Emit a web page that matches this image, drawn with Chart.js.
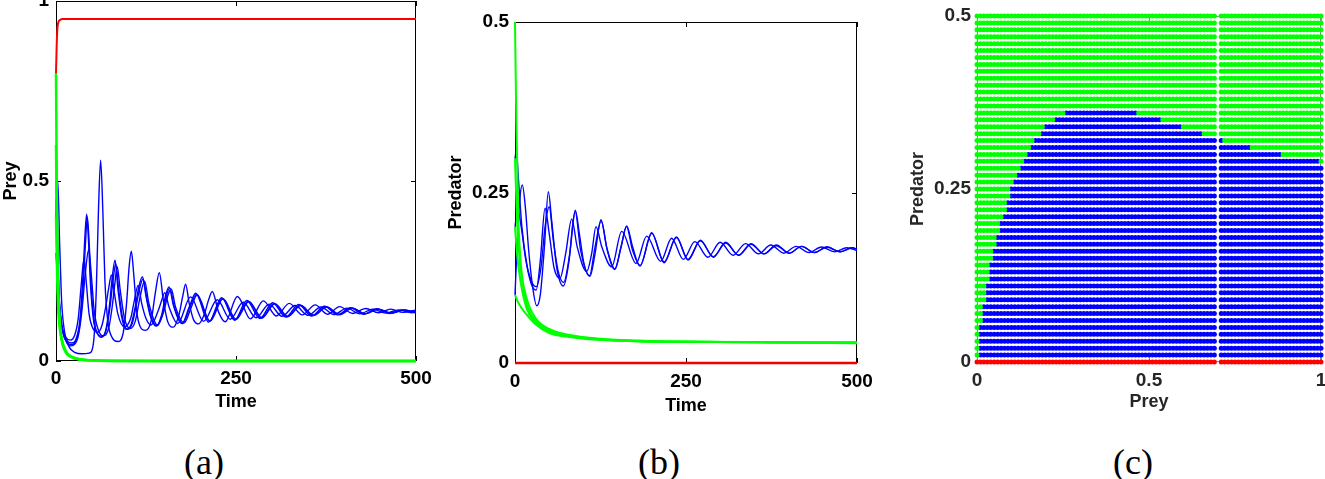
<!DOCTYPE html>
<html><head><meta charset="utf-8">
<script src="https://cdn.jsdelivr.net/npm/chart.js@4.4.1/dist/chart.umd.min.js"></script>
<style>
html,body{margin:0;padding:0;background:#fff;width:1325px;height:479px;overflow:hidden;position:relative;}
canvas{position:absolute;top:0;}
.cap{position:absolute;font-family:"Liberation Serif","DejaVu Serif",serif;font-size:36px;line-height:36px;transform:translateX(-50%);color:#000;white-space:nowrap;}
</style></head><body>
<canvas id="ca" width="440" height="420" style="left:0px"></canvas>
<canvas id="cb" width="440" height="420" style="left:440px"></canvas>
<canvas id="cc" width="445" height="420" style="left:880px"></canvas>
<div class="cap" style="left:204px;top:444px">(a)</div>
<div class="cap" style="left:659px;top:444px">(b)</div>
<div class="cap" style="left:1133px;top:444px">(c)</div>
<script>
// ---------- Panel (a): Prey vs Time ----------
const aXTickValues = [0, 250, 500];
const aXTickLabels = ['0', '250', '500'];
const aYTickValues = [0, 0.5, 1];
const aYTickLabels = ['0', '0.5', '1'];
const aRed = [[0,0.8],[1,0.88],[2,0.925],[3.5,0.942],[6,0.948],[9,0.95],[500,0.95]];
const aGreen1 = [[0,0.8],[1,0.5],[2,0.3],[4,0.15],[7,0.07],[12,0.03],[20,0.012],[35,0.004],[60,0.001],[120,0],[500,0]];
const aGreen2 = [[0,0.6],[1,0.4],[2.5,0.22],[5,0.11],[8,0.06],[14,0.025],[24,0.01],[40,0.003],[80,0.0005],[150,0],[500,0]];
const aGreen3 = [[0,0.4],[1.5,0.25],[3,0.15],[6,0.08],[10,0.045],[16,0.02],[28,0.007],[50,0.002],[100,0],[500,0]];
const aBlue1 = [[0,0.4],[2.5,0.5],[5,0.33],[8,0.16],[12,0.08],[18,0.04],[26,0.024],[36,0.02],[46,0.022],[50,0.03],[53,0.07],[56,0.2],[59,0.42],[62,0.558],[65,0.42],[68,0.22],[72,0.11],[78,0.065],[86,0.054],[93,0.075],[98,0.16],[101.5,0.26],[104.6,0.305],[108,0.24],[112,0.14],[117,0.095],[124,0.085],[132,0.11],[138,0.19],[143.5,0.245],[149,0.17],[155,0.11],[163,0.094],[171,0.13],[176,0.18],[180,0.213],[185,0.16],[191,0.115],[198,0.103],[206,0.13],[212,0.17],[217,0.193],[226,0.135],[235,0.109],[252,0.179],[270,0.117],[288,0.167],[306,0.125],[324,0.16],[342,0.128],[360,0.156],[377,0.13],[394,0.151],[412,0.132],[430,0.146],[448,0.134],[465,0.144],[482,0.135],[500,0.142]];
const aBlue2 = [[0,0.5],[2,0.3],[5,0.15],[10,0.08],[16,0.055],[22,0.05],[28,0.062],[33,0.11],[37,0.22],[40,0.34],[42.6,0.408],[45,0.34],[48,0.21],[52,0.115],[57,0.078],[63,0.066],[69,0.085],[74,0.15],[78,0.23],[82,0.28],[86,0.2],[91,0.125],[97,0.088],[104,0.1],[110,0.15],[115,0.205],[120,0.234],[125,0.18],[131,0.125],[139,0.097],[147,0.13],[152,0.18],[157,0.206],[163,0.155],[175,0.104],[185,0.15],[194,0.188],[212,0.108],[230,0.176],[248,0.113],[265,0.168],[283,0.118],[301,0.162],[319,0.122],[337,0.157],[355,0.125],[373,0.152],[391,0.128],[409,0.148],[427,0.13],[445,0.145],[463,0.132],[481,0.142],[500,0.133]];
const aBlue3 = [[0,0.45],[2,0.28],[5,0.14],[10,0.075],[16,0.05],[22,0.045],[28,0.058],[33,0.1],[37.5,0.2],[41,0.33],[43.5,0.4],[46,0.33],[49,0.2],[53,0.11],[58,0.075],[64,0.068],[70,0.088],[75,0.15],[79,0.22],[83,0.27],[87,0.2],[92,0.125],[99,0.088],[106,0.105],[112,0.16],[116,0.2],[121,0.228],[126,0.175],[132,0.123],[140,0.098],[148,0.13],[153,0.178],[158,0.203],[164,0.152],[176,0.104],[186,0.15],[195,0.185],[213,0.11],[231,0.174],[249,0.115],[267,0.166],[285,0.119],[303,0.16],[321,0.123],[339,0.155],[357,0.126],[375,0.151],[393,0.129],[411,0.147],[429,0.131],[447,0.144],[465,0.133],[483,0.141],[500,0.135]];
const aBlue4 = [[0,0.6],[1.5,0.4],[4,0.2],[8,0.1],[14,0.055],[20,0.042],[25,0.045],[31,0.07],[36,0.14],[41,0.25],[45.5,0.31],[49,0.24],[53,0.14],[59,0.085],[66,0.07],[73,0.09],[78,0.15],[82,0.22],[85,0.262],[89,0.2],[95,0.12],[103,0.09],[110,0.11],[116,0.17],[123,0.222],[129,0.16],[141,0.1],[150,0.14],[155,0.18],[160,0.2],[166,0.15],[178,0.106],[188,0.15],[196,0.184],[214,0.111],[232,0.173],[250,0.116],[268,0.165],[286,0.12],[304,0.159],[322,0.124],[340,0.154],[358,0.127],[376,0.15],[394,0.129],[412,0.147],[430,0.131],[448,0.144],[466,0.133],[484,0.142],[500,0.135]];
const aBlue5 = [[0,0.3],[3,0.2],[8,0.1],[14,0.065],[20,0.058],[26,0.072],[31,0.12],[35,0.21],[39,0.285],[42,0.22],[46,0.13],[51,0.092],[58,0.08],[64,0.1],[69,0.15],[73,0.2],[77,0.239],[81,0.19],[86,0.13],[95,0.095],[104,0.12],[109,0.17],[114,0.21],[119,0.16],[125,0.118],[132,0.1],[142,0.14],[147,0.17],[151,0.19],[157,0.15],[169,0.104],[187,0.178],[205,0.11],[224,0.17],[242,0.116],[260,0.163],[278,0.12],[296,0.158],[314,0.124],[332,0.154],[350,0.127],[368,0.15],[386,0.129],[404,0.147],[422,0.131],[440,0.144],[458,0.133],[476,0.142],[494,0.134],[500,0.136]];

// ---------- Panel (b): Predator vs Time ----------
const bXTickValues = [0, 250, 500];
const bXTickLabels = ['0', '250', '500'];
const bYTickValues = [0, 0.25, 0.5];
const bYTickLabels = ['0', '0.25', '0.5'];
const bRed = [[0,0],[500,0]];
const bGreen1 = [[0,0.5],[2,0.35],[5,0.21],[9,0.14],[17,0.095],[30,0.066],[50,0.05],[80,0.041],[120,0.036],[180,0.033],[260,0.031],[380,0.0302],[500,0.03]];
const bGreen2 = [[0,0.3],[3,0.21],[7,0.15],[17,0.087],[30,0.063],[50,0.048],[80,0.04],[120,0.035],[180,0.032],[260,0.031],[380,0.0302],[500,0.03]];
const bGreen3 = [[0,0.2],[3,0.16],[8,0.12],[17,0.08],[30,0.06],[50,0.046],[80,0.039],[120,0.035],[180,0.032],[260,0.031],[500,0.03]];
const bGreen4 = [[0,0.1],[4,0.09],[10,0.08],[17,0.071],[30,0.057],[50,0.044],[80,0.038],[120,0.034],[180,0.032],[260,0.031],[500,0.029]];
const bBlue1 = [[0,0.1],[3,0.17],[7,0.24],[10.7,0.261],[15,0.23],[20,0.165],[26,0.11],[31.7,0.084],[37,0.1],[43,0.17],[48.7,0.251],[54,0.205],[61,0.14],[70.7,0.113],[79,0.15],[84,0.2],[88.2,0.224],[94,0.19],[101,0.145],[109.6,0.127],[117,0.16],[125.7,0.21],[134,0.17],[146,0.137],[155,0.17],[163.3,0.201],[172,0.17],[182.7,0.142],[199.8,0.191],[218,0.147],[236,0.185],[253,0.151],[271,0.18],[290,0.155],[308,0.177],[327,0.158],[345,0.175],[364,0.16],[382,0.173],[401,0.161],[419,0.171],[438,0.162],[456,0.17],[475,0.163],[493,0.169],[500,0.167]];
const bBlue2 = [[0,0.3],[2,0.312],[5,0.27],[10,0.2],[18,0.14],[25,0.113],[31,0.107],[37,0.15],[43.9,0.227],[50,0.19],[57,0.14],[65.8,0.124],[74,0.16],[82.9,0.211],[91,0.17],[104.8,0.134],[112,0.16],[118.4,0.2],[127,0.17],[141.3,0.141],[156,0.193],[177,0.146],[192.5,0.186],[213,0.149],[229,0.183],[246,0.152],[263,0.178],[282,0.155],[300,0.177],[319,0.158],[337,0.175],[356,0.16],[374,0.173],[393,0.161],[411,0.171],[430,0.162],[448,0.17],[467,0.163],[485,0.169],[500,0.165]];
const bBlue3 = [[0,0.2],[4,0.225],[9,0.2],[16,0.15],[24,0.12],[31,0.112],[38,0.14],[44,0.2],[50,0.229],[56,0.18],[63,0.135],[71,0.118],[80,0.16],[88,0.222],[96,0.165],[109,0.128],[117,0.17],[126,0.208],[135,0.165],[146,0.138],[155,0.17],[163,0.2],[172,0.165],[183,0.143],[200,0.19],[218,0.148],[236,0.184],[253,0.152],[271,0.179],[290,0.156],[308,0.176],[327,0.158],[345,0.174],[364,0.16],[382,0.172],[401,0.161],[419,0.171],[438,0.162],[456,0.17],[475,0.163],[493,0.169],[500,0.167]];

// ---------- Panel (c): basin of attraction grid (Prey x Predator) ----------
const cXTickValues = [0, 0.5, 1];
const cXTickLabels = ['0', '0.5', '1'];
const cYTickValues = [0, 0.25, 0.5];
const cYTickLabels = ['0', '0.25', '0.5'];
const cPreyMax = 1, cPreyStep = 0.01;       // initial prey grid
const cPredMax = 0.5, cPredStep = 0.01;     // initial predator grid
// For predator rows 0.01 .. 0.36: first and last prey column (index) converging to coexistence (blue)
const cBlueStart = [1,1,1,1,1,2,2,2,3,3,3,4,4,4,5,5,6,6,7,7,8,9,9,10,10,11,12,13,14,15,16,17,19,20,23,26];
const cBlueEnd   = [100,100,100,100,100,100,100,100,100,100,100,100,100,100,100,100,100,100,100,100,100,100,100,100,100,100,100,100,99,88,79,71,65,59,53,46];
const cMissingPreyColumns = [70];

// ---------- build ----------
const pts = arr => arr.map(p => ({x: p[0], y: p[1]}));
const tickFont = {family: 'Liberation Sans', size: 19, weight: 'bold'};
const titleFont = {family: 'Liberation Sans', size: 18, weight: 'bold'};

const boxPlugin = {
  id: 'box',
  beforeDatasetsDraw(chart, args, opts) {
    const {ctx, chartArea: a, scales: {x, y}} = chart;
    ctx.save();
    ctx.strokeStyle = opts.color || '#000';
    ctx.lineWidth = 1;
    const L = 5;
    ctx.strokeRect(Math.round(a.left) + 0.5, Math.round(a.top) + 0.5, Math.round(a.right - a.left) - 1, Math.round(a.bottom - a.top) - 1);
    ctx.beginPath();
    x.ticks.forEach(t => {
      const px = Math.round(x.getPixelForValue(t.value)) + 0.5;
      ctx.moveTo(px, a.bottom); ctx.lineTo(px, a.bottom - L);
      ctx.moveTo(px, a.top); ctx.lineTo(px, a.top + L);
    });
    y.ticks.forEach(t => {
      const py = Math.round(y.getPixelForValue(t.value)) + 0.5;
      ctx.moveTo(a.left, py); ctx.lineTo(a.left + L, py);
      ctx.moveTo(a.right, py); ctx.lineTo(a.right - L, py);
    });
    ctx.stroke();
    ctx.restore();
  }
};

function lineDs(data, color, width) {
  return {data: pts(data), borderColor: color, backgroundColor: color, borderWidth: width,
    pointRadius: 0, fill: false, cubicInterpolationMode: 'monotone', clip: false};
}

function axes(c) {
  return {
    x: {type: 'linear', min: c.xMin, max: c.xMax,
      afterBuildTicks: s => { s.ticks = c.xTicks.map(v => ({value: v})); },
      afterFit: s => { s.height = c.xH; s.paddingLeft = 0; s.paddingRight = 0; },
      ticks: {callback: (v, i) => c.xLabels[i], font: tickFont, color: c.tc, padding: c.xPad, maxRotation: 0, autoSkip: false},
      grid: {display: false, drawTicks: false}, border: {display: false},
      title: {display: true, text: c.xTitle, font: titleFont, color: c.tc, padding: {top: 0, bottom: 0}}},
    y: {type: 'linear', min: c.yMin, max: c.yMax,
      afterBuildTicks: s => { s.ticks = c.yTicks.map(v => ({value: v})); },
      afterFit: s => { s.width = c.yW; s.paddingTop = 0; s.paddingBottom = 0; },
      ticks: {callback: (v, i) => c.yLabels[i], font: tickFont, color: c.tc, padding: c.yPad, autoSkip: false},
      grid: {display: false, drawTicks: false}, border: {display: false},
      title: {display: true, text: c.yTitle, font: titleFont, color: c.tc, padding: {top: c.yTitlePad, bottom: 0}}}
  };
}

function make(id, type, datasets, c, boxColor) {
  return new Chart(document.getElementById(id), {
    type: type,
    data: {datasets: datasets},
    options: {
      responsive: false, animation: false, devicePixelRatio: 1,
      layout: {padding: c.pad},
      plugins: {legend: {display: false}, tooltip: {enabled: false}, box: {color: boxColor}},
      scales: axes(c)
    },
    plugins: [boxPlugin]
  });
}

// Panel (a)
make('ca', 'line', [
  lineDs(aGreen1, '#00ff00', 2.5), lineDs(aGreen2, '#00ff00', 2.5), lineDs(aGreen3, '#00ff00', 2.5),
  lineDs(aBlue1, '#0000ff', 1.4), lineDs(aBlue2, '#0000ff', 1.4), lineDs(aBlue3, '#0000ff', 1.4),
  lineDs(aBlue4, '#0000ff', 1.4), lineDs(aBlue5, '#0000ff', 1.4),
  lineDs(aRed, '#ff0000', 2)
], {xMin: 0, xMax: 500, yMin: 0, yMax: 1, xTicks: aXTickValues, xLabels: aXTickLabels,
    yTicks: aYTickValues, yLabels: aYTickLabels, xTitle: 'Time', yTitle: 'Prey',
    xH: 52, yW: 56, xPad: 6, yPad: 7, yTitlePad: 0, tc: '#000',
    pad: {left: 0, top: 1, right: 24, bottom: 7}}, '#000');

// Panel (b)
make('cb', 'line', [
  lineDs(bGreen1, '#00ff00', 2), lineDs(bGreen2, '#00ff00', 2), lineDs(bGreen3, '#00ff00', 2), lineDs(bGreen4, '#00ff00', 2),
  lineDs(bBlue1, '#0000ff', 1.4), lineDs(bBlue2, '#0000ff', 1.4), lineDs(bBlue3, '#0000ff', 1.4),
  lineDs(bRed, '#ee0000', 2.5)
], {xMin: 0, xMax: 500, yMin: 0, yMax: 0.5, xTicks: bXTickValues, xLabels: bXTickLabels,
    yTicks: bYTickValues, yLabels: bYTickLabels, xTitle: 'Time', yTitle: 'Predator',
    xH: 54, yW: 75, xPad: 7, yPad: 6, yTitlePad: 5, tc: '#000',
    pad: {left: 0, top: 22, right: 23, bottom: 3}}, '#000');

// Panel (c)
const cRed = [], cGreen = [], cBlue = [];
const nPrey = Math.round(cPreyMax / cPreyStep), nPred = Math.round(cPredMax / cPredStep);
for (let r = 0; r <= nPred; r++) {
  for (let i = 0; i <= nPrey; i++) {
    if (cMissingPreyColumns.includes(i)) continue;
    const p = {x: i * cPreyStep, y: r * cPredStep};
    if (r === 0) cRed.push(p);
    else if (r <= cBlueStart.length && i >= cBlueStart[r - 1] && i <= cBlueEnd[r - 1]) cBlue.push(p);
    else cGreen.push(p);
  }
}
const dotDs = (data, color) => ({data: data, showLine: false, pointRadius: 2.5, pointBorderWidth: 0,
  pointBackgroundColor: color, backgroundColor: color, borderColor: color, clip: false});
make('cc', 'scatter', [dotDs(cGreen, '#00ff00'), dotDs(cBlue, '#0000ff'), dotDs(cRed, '#ff0000')],
  {xMin: 0, xMax: 1, yMin: 0, yMax: 0.5, xTicks: cXTickValues, xLabels: cXTickLabels,
   yTicks: cYTickValues, yLabels: cYTickLabels, xTitle: 'Prey', yTitle: 'Predator',
   xH: 51, yW: 97, xPad: 7, yPad: 6, yTitlePad: 27, tc: '#262626',
   pad: {left: 0, top: 16, right: 2, bottom: 7}}, '#8c8c8c');
</script>
</body></html>
